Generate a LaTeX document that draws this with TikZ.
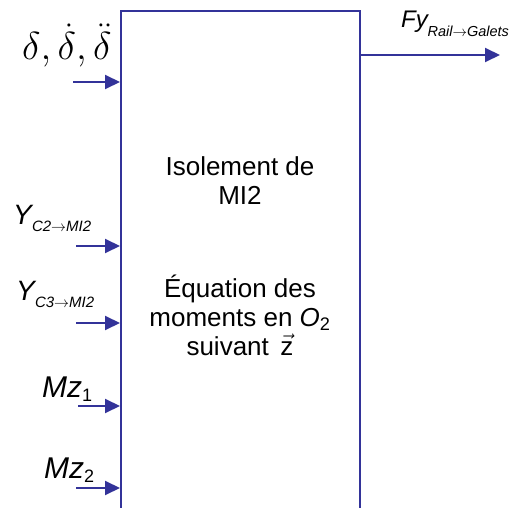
\documentclass[tikz,border=0pt]{standalone}
\usepackage{fix-cm}
\usepackage{fontspec}
\setmainfont{Liberation Sans}
\usetikzlibrary{arrows.meta,positioning}
\definecolor{flowblue}{RGB}{51,51,153}
\newcommand{\fsz}[1]{\fontsize{#1}{#1}\selectfont}
\newcommand{\sig}[4]{{\fsz{#1}\textit{#2}}\kern-1.5pt\raisebox{-#4}{\fsz{15}\textit{#3}}}

\begin{document}
\begin{tikzpicture}[x=1pt,y=-1pt,font=\fontsize{26}{29}\selectfont,
    inarrow/.style={draw=flowblue,line width=2pt,-{Triangle[length=15pt,width=14pt]}},
    sigtext/.style={anchor=base west,inner sep=0pt}]
  \useasboundingbox (0,0) rectangle (512,508);
  \clip (0,0) rectangle (512,508);
  % block
  \node[draw=flowblue,line width=2pt,anchor=north west,inner sep=0pt,
        minimum width=239pt,minimum height=540pt] (mi2) at (120,10) {};
  \node[align=center] (isol) at (240,181) {Isolement de\\MI2};
  \node[align=center] (eqn) at (240,315)
    {Équation des\\moments en \textit{O}\textsubscript{2}\\suivant \,$\vec{\mbox{z}}$};
  % inputs
  \node[sigtext] (ldelta) at (22,60) {\fsz{39}$\delta{,}\,\dot\delta{,}\,\ddot\delta$};
  \node[sigtext] (ly2) at (13,225) {\sig{28}{Y}{C2\(\rightarrow\)MI2}{7pt}};
  \node[sigtext] (ly3) at (16,300) {\sig{28}{Y}{C3\(\rightarrow\)MI2}{7pt}};
  \node[sigtext] (lmz1) at (42,397) {{\fsz{30}\textit{Mz}}\raisebox{-0.35ex}{\fsz{18}1}};
  \node[sigtext] (lmz2) at (44,478) {{\fsz{30}\textit{Mz}}\raisebox{-0.35ex}{\fsz{18}2}};
  \coordinate (indelta) at (73,82);
  \coordinate (iny2) at (76,246);
  \coordinate (iny3) at (76,323);
  \coordinate (inmz1) at (78,406);
  \coordinate (inmz2) at (76,488);
  \foreach \c in {indelta,iny2,iny3,inmz1,inmz2}
    \draw[inarrow] (\c) -- (\c -| mi2.west);
  % output
  \node[sigtext] (lfy) at (401,28) {\sig{24}{Fy}{\fsz{14.5}Rail\(\rightarrow\)Galets}{9pt}};
  \coordinate (outfy) at (500,55);
  \draw[inarrow] (outfy -| mi2.east) -- (outfy);
\end{tikzpicture}
\end{document}
